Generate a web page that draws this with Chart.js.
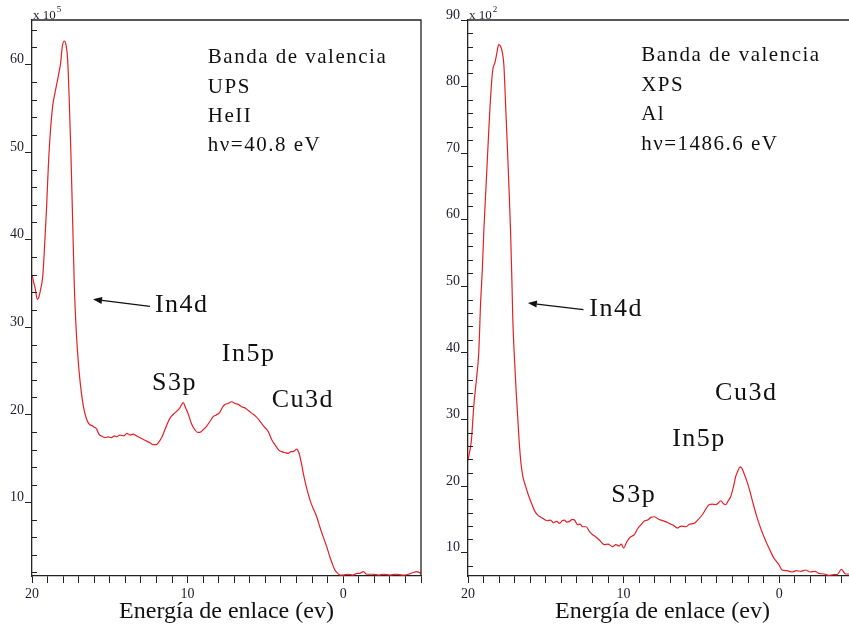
<!DOCTYPE html>
<html>
<head>
<meta charset="utf-8">
<title>Banda de valencia UPS / XPS</title>
<script src="https://cdn.jsdelivr.net/npm/chart.js@4.4.1/dist/chart.umd.min.js"></script>
<style>
    html, body { margin: 0; padding: 0; background: #fff; overflow: hidden; width: 849px; height: 629px; }
    canvas { position: absolute; top: 0; }
    #upsChart { left: 0; }
    #xpsChart { left: 430px; }
</style>
</head>
<body>
<canvas id="upsChart" width="430" height="629"></canvas>
<canvas id="xpsChart" width="430" height="629"></canvas>
<script>
// ---- data (energy in eV, counts in x10^5 / x10^2) ----
const upsEnergy = [20.0, 19.9, 19.8, 19.66, 19.55, 19.45, 19.31, 19.17, 19.06, 18.95, 18.84, 18.67, 18.52, 18.31, 18.16, 18.05, 17.92, 17.82, 17.71, 17.6,
    17.5, 17.39, 17.28, 17.17, 17.07, 16.92, 16.7, 16.49, 16.3, 16.17, 16.0, 15.85, 15.7, 15.55, 15.31, 15.1, 14.9, 14.7, 14.56, 14.35,
    14.1, 13.9, 13.7, 13.5, 13.28, 13.06, 12.85, 12.63, 12.4, 12.21, 12.0, 11.89, 11.7, 11.57, 11.35, 11.14, 10.9, 10.71, 10.5, 10.28,
    10.15, 9.96, 9.75, 9.53, 9.35, 9.21, 9.0, 8.78, 8.55, 8.36, 8.15, 7.93, 7.75, 7.6, 7.4, 7.17, 6.95, 6.75, 6.5, 6.32,
    6.1, 5.89, 5.6, 5.36, 5.1, 4.82, 4.6, 4.39, 4.15, 3.96, 3.75, 3.54, 3.35, 3.22, 3.0, 2.85, 2.7, 2.55, 2.4, 2.14,
    1.95, 1.71, 1.5, 1.29, 1.05, 0.86, 0.7, 0.54, 0.35, 0.2, 0.0, -0.3, -0.6, -0.9, -1.05, -1.3, -1.5, -1.9, -2.3, -2.6,
    -3.0, -3.4, -3.8, -4.2, -4.5, -4.7, -5.0];
const upsCounts = [36.0, 35.2, 34.5, 33.2, 33.5, 34.3, 35.8, 40.0, 43.8, 48.4, 51.8, 55.3, 56.8, 58.7, 60.2, 62.1, 62.7, 62.3, 60.6, 55.6,
    49.9, 42.3, 34.7, 30.1, 27.1, 24.0, 21.0, 19.5, 18.9, 18.8, 18.6, 18.4, 17.8, 17.6, 17.4, 17.5, 17.4, 17.6, 17.5, 17.7,
    17.6, 17.9, 17.7, 17.8, 17.6, 17.4, 17.2, 17.0, 16.8, 16.6, 16.6, 16.8, 17.3, 17.8, 18.8, 19.6, 20.1, 20.4, 20.8, 21.4,
    20.9, 20.1, 19.0, 18.3, 18.0, 18.0, 18.3, 18.7, 19.3, 19.8, 20.0, 20.3, 20.9, 21.2, 21.3, 21.5, 21.3, 21.2, 20.9, 20.8,
    20.5, 20.2, 19.8, 19.3, 18.7, 18.1, 17.2, 16.6, 16.0, 15.8, 15.7, 15.6, 15.8, 15.8, 16.1, 15.7, 14.6, 13.2, 12.0, 10.3,
    9.4, 8.4, 7.2, 6.1, 4.9, 3.8, 3.0, 2.3, 1.9, 1.7, 1.7, 1.8, 1.7, 1.9, 1.9, 2.1, 1.8, 1.8, 1.7, 1.8,
    1.7, 1.8, 1.7, 1.8, 2.0, 2.1, 1.9];

const xpsEnergy = [20.0, 19.78, 19.63, 19.46, 19.31, 19.19, 19.08, 18.97, 18.82, 18.65, 18.5, 18.4, 18.27, 18.14, 18.03, 17.92, 17.79, 17.69, 17.58, 17.47,
    17.37, 17.26, 17.18, 17.12, 17.01, 16.9, 16.73, 16.6, 16.47, 16.3, 16.11, 15.9, 15.7, 15.5, 15.3, 15.1, 14.9, 14.7, 14.5, 14.3,
    14.12, 13.95, 13.8, 13.65, 13.48, 13.3, 13.16, 12.95, 12.8, 12.63, 12.41, 12.2, 11.99, 11.8, 11.56, 11.4, 11.24, 11.0, 10.71, 10.5,
    10.28, 10.15, 10.0, 9.8, 9.63, 9.45, 9.31, 9.1, 8.88, 8.65, 8.46, 8.25, 8.03, 7.8, 7.6, 7.35, 7.07, 6.8, 6.54, 6.3,
    6.0, 5.75, 5.47, 5.2, 4.94, 4.7, 4.51, 4.3, 4.08, 3.9, 3.76, 3.6, 3.44, 3.3, 3.12, 2.95, 2.8, 2.65, 2.52, 2.38,
    2.26, 2.1, 1.94, 1.78, 1.62, 1.45, 1.3, 1.15, 0.98, 0.82, 0.66, 0.5, 0.34, 0.18, 0.02, -0.19, -0.5, -0.83, -1.1, -1.4,
    -1.69, -2.0, -2.3, -2.54, -2.9, -3.19, -3.5, -3.72, -4.0, -4.26, -4.6, -5.0];
const xpsCounts = [23.9, 26.9, 32.0, 36.0, 40.0, 47.5, 52.5, 59.0, 66.0, 74.1, 80.1, 82.6, 83.6, 85.1, 86.3, 86.1, 85.1, 83.1, 77.1, 71.0,
    65.0, 58.0, 51.0, 45.0, 39.0, 34.0, 27.4, 23.5, 21.4, 20.0, 18.6, 17.3, 16.2, 15.6, 15.3, 15.0, 14.8, 14.9, 14.5, 14.7,
    14.4, 14.8, 14.9, 14.6, 14.7, 15.0, 14.9, 14.2, 14.3, 13.9, 13.9, 13.2, 12.7, 12.4, 11.9, 11.5, 11.2, 11.3, 10.9, 11.2,
    11.0, 11.3, 10.7, 11.6, 12.2, 12.5, 12.7, 13.6, 14.2, 14.8, 14.9, 15.3, 15.4, 15.1, 14.9, 14.7, 14.4, 14.1, 13.7, 14.0,
    13.9, 14.3, 14.4, 15.0, 15.7, 16.6, 17.2, 17.3, 17.2, 17.5, 17.8, 17.4, 17.2, 17.7, 18.4, 19.8, 21.4, 22.3, 22.9, 22.6,
    21.9, 20.9, 19.7, 18.3, 16.9, 15.5, 14.4, 13.4, 12.4, 11.5, 10.7, 9.9, 9.2, 8.7, 8.2, 7.4, 7.3, 7.1, 7.3, 7.2,
    7.4, 7.1, 7.2, 6.9, 6.8, 6.6, 6.7, 6.7, 7.5, 6.8, 6.8, 6.7];

const energyMin = -5;
const energyMax = 20;
const xTitle = 'Energía de enlace (ev)';

// annotations, placed in data units of each panel
const upsNotes = [
    { text: 'Banda de valencia', x: 8.70, y: 60.2, kind: 'info' },
    { text: 'UPS', x: 8.70, y: 56.8, kind: 'info' },
    { text: 'HeII', x: 8.70, y: 53.4, kind: 'info' },
    { text: 'h\u03BD=40.8 eV', x: 8.70, y: 50.1, kind: 'info' },
    { text: 'In4d', x: 12.10, y: 31.8, kind: 'peak' },
    { text: 'S3p', x: 12.29, y: 22.8, kind: 'peak' },
    { text: 'In5p', x: 7.80, y: 26.1, kind: 'peak' },
    { text: 'Cu3d', x: 4.59, y: 20.9, kind: 'peak' }
];
const upsArrow = { x1: 12.42, y1: 32.4, x2: 16.08, y2: 33.2 };

const xpsNotes = [
    { text: 'Banda de valencia', x: 8.87, y: 83.9, kind: 'info' },
    { text: 'XPS', x: 8.87, y: 79.4, kind: 'info' },
    { text: 'Al', x: 8.87, y: 75.0, kind: 'info' },
    { text: 'h\u03BD=1486.6 eV', x: 8.87, y: 70.5, kind: 'info' },
    { text: 'In4d', x: 12.20, y: 45.6, kind: 'peak' },
    { text: 'S3p', x: 10.79, y: 17.6, kind: 'peak' },
    { text: 'In5p', x: 6.88, y: 26.0, kind: 'peak' },
    { text: 'Cu3d', x: 4.12, y: 33.0, kind: 'peak' }
];
const xpsArrow = { x1: 12.58, y1: 46.5, x2: 16.15, y2: 47.5 };

const SERIF = "'Liberation Serif', 'Times New Roman', serif";
const AXIS_COLOR = '#222';
const TICK_COLOR = '#1c1c2e';
const CURVE_COLOR = 'rgb(228, 32, 38)';

Chart.defaults.font.family = SERIF;

// frame, inner minor ticks, exponent label, text notes and arrow
const panelDecor = {
    id: 'panelDecor',
    afterDraw(chart, args, opts) {
        const { ctx, chartArea: a, scales: { x, y } } = chart;
        ctx.save();

        ctx.strokeStyle = AXIS_COLOR;
        ctx.lineWidth = 1.3;
        ctx.beginPath();
        ctx.moveTo(a.left, a.top);
        ctx.lineTo(a.right, a.top);
        ctx.lineTo(a.right, a.bottom);
        ctx.stroke();

        ctx.lineWidth = 1;
        y.ticks.forEach((t) => {
            if (t.value % 10 === 0) return;
            const py = Math.round(y.getPixelForValue(t.value)) + 0.5;
            ctx.beginPath();
            ctx.moveTo(a.left, py);
            ctx.lineTo(a.left + 5, py);
            ctx.stroke();
        });

        // x 10^n
        ctx.fillStyle = TICK_COLOR;
        ctx.textBaseline = 'alphabetic';
        ctx.textAlign = 'left';
        ctx.font = `13px ${SERIF}`;
        ctx.fillText('x 10', a.left + 1, a.top - 1);
        const w = ctx.measureText('x 10').width;
        ctx.font = `9px ${SERIF}`;
        ctx.fillText(opts.exponent, a.left + 2 + w, a.top - 8);

        ctx.fillStyle = '#111';
        (opts.notes || []).forEach((n) => {
            const big = n.kind === 'peak';
            ctx.font = `${big ? 26 : 21}px ${SERIF}`;
            ctx.letterSpacing = '1.5px';
            ctx.fillText(n.text, x.getPixelForValue(n.x), y.getPixelForValue(n.y));
        });
        ctx.letterSpacing = '0px';

        const ar = opts.arrow;
        if (ar) {
            const x1 = x.getPixelForValue(ar.x1), y1 = y.getPixelForValue(ar.y1);
            const x2 = x.getPixelForValue(ar.x2), y2 = y.getPixelForValue(ar.y2);
            const ang = Math.atan2(y2 - y1, x2 - x1);
            const len = 9, half = 3.5;
            ctx.strokeStyle = '#111';
            ctx.lineWidth = 1.2;
            ctx.beginPath();
            ctx.moveTo(x1, y1);
            ctx.lineTo(x2 - Math.cos(ang) * len, y2 - Math.sin(ang) * len);
            ctx.stroke();
            ctx.fillStyle = '#111';
            ctx.beginPath();
            ctx.moveTo(x2, y2);
            ctx.lineTo(x2 - Math.cos(ang) * len - Math.sin(ang) * half, y2 - Math.sin(ang) * len + Math.cos(ang) * half);
            ctx.lineTo(x2 - Math.cos(ang) * len + Math.sin(ang) * half, y2 - Math.sin(ang) * len - Math.cos(ang) * half);
            ctx.closePath();
            ctx.fill();
        }
        ctx.restore();
    }
};

function buildPanel(id, cfg) {
    const points = cfg.energy.map((e, i) => ({ x: e, y: cfg.counts[i] }));
    return new Chart(document.getElementById(id), {
        type: 'line',
        plugins: [panelDecor],
        data: {
            datasets: [{
                data: points,
                borderColor: CURVE_COLOR,
                borderWidth: 1.2,
                pointRadius: 0,
                fill: false,
                cubicInterpolationMode: 'monotone'
            }]
        },
        options: {
            responsive: false,
            animation: false,
            events: [],
            layout: { padding: { top: 20, right: cfg.rightPad, left: 0, bottom: 0 } },
            plugins: {
                legend: { display: false },
                tooltip: { enabled: false },
                panelDecor: { exponent: cfg.exponent, notes: cfg.notes, arrow: cfg.arrow }
            },
            scales: {
                x: {
                    type: 'linear',
                    reverse: true,
                    min: energyMin,
                    max: energyMax,
                    afterFit: (s) => { s.height = 53; },
                    ticks: {
                        stepSize: 1,
                        autoSkip: false,
                        maxRotation: 0,
                        includeBounds: false,
                        padding: 3,
                        color: TICK_COLOR,
                        font: { size: 14 },
                        callback: (v) => (v % 10 === 0 ? String(v) : '')
                    },
                    grid: { drawOnChartArea: false, tickLength: 7, tickColor: AXIS_COLOR },
                    border: { color: AXIS_COLOR, width: 1.3 },
                    title: {
                        display: true,
                        text: xTitle,
                        color: '#111',
                        font: { size: 24 },
                        padding: { top: 0, bottom: 3 }
                    }
                },
                y: {
                    type: 'linear',
                    min: cfg.yMin,
                    max: cfg.yMax,
                    afterFit: (s) => { s.width = cfg.axisWidth; },
                    ticks: {
                        stepSize: 2,
                        autoSkip: false,
                        includeBounds: false,
                        padding: 1,
                        labelOffset: -5,
                        color: TICK_COLOR,
                        font: { size: 14 },
                        callback: (v) => (v % 10 === 0 ? String(v) : '')
                    },
                    grid: {
                        drawOnChartArea: false,
                        tickLength: 7,
                        tickColor: (c) => (c.tick && c.tick.value % 10 === 0 ? AXIS_COLOR : 'rgba(0,0,0,0)')
                    },
                    border: { color: AXIS_COLOR, width: 1.3 }
                }
            }
        }
    });
}

buildPanel('upsChart', {
    energy: upsEnergy, counts: upsCounts,
    yMin: 1.6, yMax: 65.1, axisWidth: 32, rightPad: 9,
    exponent: '5', notes: upsNotes, arrow: upsArrow
});

buildPanel('xpsChart', {
    energy: xpsEnergy, counts: xpsCounts,
    yMin: 6.5, yMax: 90, axisWidth: 38, rightPad: 2,
    exponent: '2', notes: xpsNotes, arrow: xpsArrow
});
</script>
</body>
</html>
